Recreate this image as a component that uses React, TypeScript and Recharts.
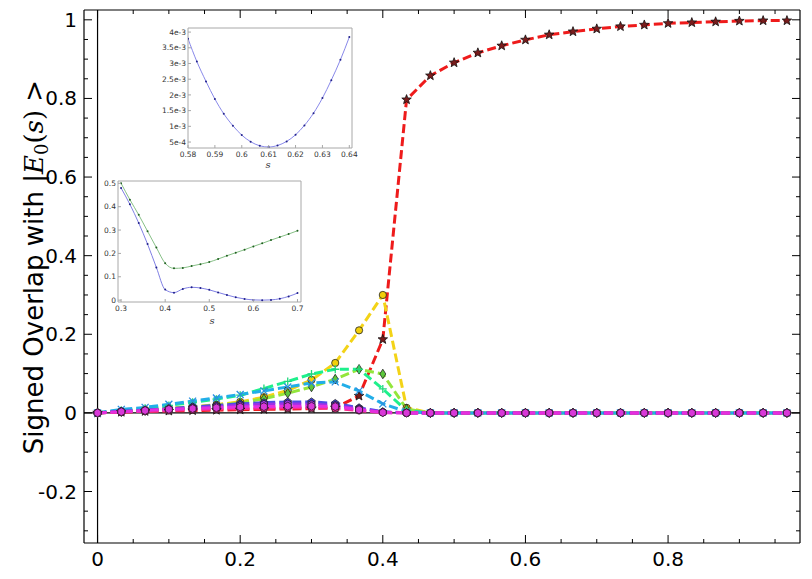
import { Line, LineChart, ReferenceLine, XAxis, YAxis } from 'recharts'

// adiabatic parameter s (main plot)
const sGrid = [
  0, 0.0333, 0.0667, 0.1, 0.1333, 0.1667, 0.2, 0.2333, 0.2667, 0.3,
  0.3333, 0.3667, 0.4, 0.4333, 0.4667, 0.5, 0.5333, 0.5667, 0.6, 0.6333,
  0.6667, 0.7, 0.7333, 0.7667, 0.8, 0.8333, 0.8667, 0.9, 0.9333, 0.9667,
]

const overlapE0 = [
  0, 0.002, 0.004, 0.005, 0.006, 0.007, 0.008, 0.009, 0.01, 0.011,
  0.013, 0.043, 0.187, 0.797, 0.858, 0.891, 0.916, 0.934, 0.949, 0.962,
  0.97, 0.977, 0.983, 0.987, 0.991, 0.993, 0.995, 0.997, 0.998, 0.998,
]
const overlapE1 = [
  0, 0.004, 0.008, 0.012, 0.016, 0.021, 0.028, 0.04, 0.057, 0.084,
  0.127, 0.21, 0.3, 0.013, 0, 0, 0, 0, 0, 0,
  0, 0, 0, 0, 0, 0, 0, 0, 0, 0,
]
const overlapE2 = [
  0, 0.003, 0.006, 0.01, 0.014, 0.019, 0.025, 0.036, 0.05, 0.066,
  0.086, 0.111, 0.099, 0.01, 0, 0, 0, 0, 0, 0,
  0, 0, 0, 0, 0, 0, 0, 0, 0, 0,
]
const overlapE3 = [
  0, 0.006, 0.012, 0.019, 0.027, 0.035, 0.045, 0.062, 0.08, 0.099,
  0.111, 0.111, 0.061, 0.006, 0, 0, 0, 0, 0, 0,
  0, 0, 0, 0, 0, 0, 0, 0, 0, 0,
]
const overlapE4 = [
  0, 0.009, 0.014, 0.022, 0.03, 0.038, 0.047, 0.056, 0.066, 0.076,
  0.079, 0.056, 0.023, 0.003, 0, 0, 0, 0, 0, 0,
  0, 0, 0, 0, 0, 0, 0, 0, 0, 0,
]
const overlapE5 = [
  0, 0.004, 0.007, 0.011, 0.015, 0.019, 0.023, 0.026, 0.028, 0.028,
  0.024, 0.013, 0.003, 0, 0, 0, 0, 0, 0, 0,
  0, 0, 0, 0, 0, 0, 0, 0, 0, 0,
]
const overlapE6 = [
  0, 0.003, 0.006, 0.009, 0.012, 0.016, 0.019, 0.022, 0.023, 0.022,
  0.019, 0.01, 0.002, 0, 0, 0, 0, 0, 0, 0,
  0, 0, 0, 0, 0, 0, 0, 0, 0, 0,
]
const overlapE7 = [
  0, 0.002, 0.004, 0.006, 0.008, 0.01, 0.011, 0.012, 0.013, 0.013,
  0.011, 0.006, 0.001, 0, 0, 0, 0, 0, 0, 0,
  0, 0, 0, 0, 0, 0, 0, 0, 0, 0,
]
const overlapE8 = [
  0, 0.003, 0.006, 0.009, 0.011, 0.013, 0.015, 0.016, 0.017, 0.017,
  0.016, 0.008, 0.001, 0, 0, 0, 0, 0, 0, 0,
  0, 0, 0, 0, 0, 0, 0, 0, 0, 0,
]

const xMainTicks = [
  0, 0.05, 0.1, 0.15, 0.2, 0.25, 0.3, 0.35, 0.4, 0.45,
  0.5, 0.55, 0.6, 0.65, 0.7, 0.75, 0.8, 0.85, 0.9, 0.95,
]
const yMainTicks = [
  -0.3, -0.25, -0.2, -0.15, -0.1, -0.05, 0, 0.05, 0.1, 0.15, 0.2, 0.25,
  0.3, 0.35, 0.4, 0.45, 0.5, 0.55, 0.6, 0.65, 0.7, 0.75, 0.8, 0.85, 0.9,
  0.95, 1,
]

// inset 1: zoom on the minimum gap
const gapS = [
  0.58, 0.5833, 0.5867, 0.59, 0.5933, 0.5967, 0.6, 0.6033, 0.6067, 0.61,
  0.6133, 0.6167, 0.62, 0.6233, 0.6267, 0.63, 0.6333, 0.6367, 0.64,
]
const gapValues = [
  0.00379, 0.00306, 0.00243, 0.00187, 0.0014, 0.00102, 0.00072, 0.00051,
  0.00038, 0.00034, 0.00039, 0.00052, 0.00073, 0.00103, 0.00142, 0.0019,
  0.00247, 0.00312, 0.00384,
]
const gapXTicks = [0.58, 0.59, 0.6, 0.61, 0.62, 0.63, 0.64]
const gapXLabels = ['0.58', '0.59', '0.6', '0.61', '0.62', '0.63', '0.64']
const gapYTicks = [0.0005, 0.001, 0.0015, 0.002, 0.0025, 0.003, 0.0035, 0.004]
const gapYLabels = ['5e-4', '1e-3', '1.5e-3', '2e-3', '2.5e-3', '3e-3', '3.5e-3', '4e-3']

// inset 2: two lowest gaps
const gapsS = [
  0.3, 0.32, 0.34, 0.36, 0.38, 0.4, 0.42, 0.44, 0.46, 0.48, 0.5,
  0.52, 0.54, 0.56, 0.58, 0.6, 0.62, 0.64, 0.66, 0.68, 0.7,
]
const gapFirst = [
  0.48, 0.41, 0.33, 0.24, 0.14, 0.045, 0.032, 0.048, 0.055, 0.052, 0.044,
  0.033, 0.022, 0.012, 0.005, 0.001, 0, 0.001, 0.006, 0.016, 0.03,
]
const gapSecond = [
  0.5, 0.43, 0.365, 0.295, 0.225, 0.158, 0.136, 0.138, 0.146, 0.154, 0.163,
  0.176, 0.19, 0.203, 0.216, 0.23, 0.243, 0.257, 0.27, 0.283, 0.297,
]
const gapsXTicks = [0.3, 0.4, 0.5, 0.6, 0.7]
const gapsXLabels = ['0.3', '0.4', '0.5', '0.6', '0.7']
const gapsYTicks = [0, 0.1, 0.2, 0.3, 0.4, 0.5]
const gapsYLabels = ['0', '0.1', '0.2', '0.3', '0.4', '0.5']

type MarkerKind = 'star' | 'circle' | 'diamond' | 'plus' | 'cross' | 'pentagon' | 'hexagon'

const seriesDefs: {
  key: string
  values: number[]
  color: string
  marker: MarkerKind
  fill: string
  edge: string
}[] = [
  { key: 'e0', values: overlapE0, color: '#ee1b1b', marker: 'star', fill: '#7a1c1c', edge: '#111' },
  { key: 'e1', values: overlapE1, color: '#f3d317', marker: 'circle', fill: '#f2cf0a', edge: '#222' },
  { key: 'e2', values: overlapE2, color: '#93e63c', marker: 'diamond', fill: '#5cc83c', edge: '#222' },
  { key: 'e3', values: overlapE3, color: '#1ef08c', marker: 'plus', fill: '#1fd67c', edge: '#1fd67c' },
  { key: 'e4', values: overlapE4, color: '#22aee8', marker: 'cross', fill: '#2a8fe0', edge: '#2a8fe0' },
  { key: 'e5', values: overlapE5, color: '#4c4ce6', marker: 'pentagon', fill: '#3a3ae0', edge: '#222' },
  { key: 'e6', values: overlapE6, color: '#9c30e8', marker: 'hexagon', fill: '#9c30e8', edge: '#222' },
  { key: 'e7', values: overlapE7, color: '#ff2a8c', marker: 'circle', fill: '#ff2a8c', edge: '#222' },
  { key: 'e8', values: overlapE8, color: '#e42ee0', marker: 'hexagon', fill: '#d838d8', edge: '#3a1a3a' },
]

const mainRows = sGrid.map((s, i) => {
  const row: Record<string, number> = { s }
  seriesDefs.forEach((d) => {
    row[d.key] = d.values[i]
  })
  return row
})

const gapRows = gapS.map((s, i) => ({ s, a: gapValues[i] }))
const gapsRows = gapsS.map((s, i) => ({ s, a: gapFirst[i], b: gapSecond[i] }))

const sans = 'DejaVu Sans'

function ring(cx: number, cy: number, r: number, n: number, inner?: number) {
  const count = inner ? n * 2 : n
  const pts: string[] = []
  for (let i = 0; i < count; i++) {
    const rr = inner && i % 2 === 1 ? inner : r
    const a = (i * Math.PI * 2) / count
    pts.push(`${(cx + rr * Math.sin(a)).toFixed(2)},${(cy - rr * Math.cos(a)).toFixed(2)}`)
  }
  return pts.join(' ')
}

function Marker({ kind, cx, cy, fill, edge }: { kind: MarkerKind; cx: number; cy: number; fill: string; edge: string }) {
  if (kind === 'star')
    return <polygon points={ring(cx, cy, 5, 5, 2.1)} fill={fill} stroke={edge} strokeWidth={0.8} />
  if (kind === 'circle') return <circle cx={cx} cy={cy} r={3.6} fill={fill} stroke={edge} strokeWidth={0.8} />
  if (kind === 'diamond')
    return (
      <polygon
        points={`${cx},${cy - 4.8} ${cx + 3},${cy} ${cx},${cy + 4.8} ${cx - 3},${cy}`}
        fill={fill}
        stroke={edge}
        strokeWidth={0.8}
      />
    )
  if (kind === 'plus')
    return <path d={`M${cx - 4},${cy}H${cx + 4}M${cx},${cy - 4}V${cy + 4}`} stroke={fill} strokeWidth={1.3} />
  if (kind === 'cross')
    return (
      <path
        d={`M${cx - 3.5},${cy - 3.5}L${cx + 3.5},${cy + 3.5}M${cx - 3.5},${cy + 3.5}L${cx + 3.5},${cy - 3.5}`}
        stroke={fill}
        strokeWidth={1.3}
      />
    )
  if (kind === 'pentagon')
    return <polygon points={ring(cx, cy, 4, 5)} fill={fill} stroke={edge} strokeWidth={0.8} />
  return <polygon points={ring(cx, cy, 4, 6)} fill={fill} stroke={edge} strokeWidth={0.9} />
}

const isMajor = (v: number) => Math.abs(v / 0.2 - Math.round(v / 0.2)) < 1e-6
const fmtMain = (v: number) => (Math.abs(v) < 1e-9 ? '0' : Math.abs(v - 1) < 1e-9 ? '1' : v.toFixed(1))

function bottomTick(p: any) {
  const v = p.payload.value
  const major = isMajor(v)
  return (
    <g>
      <line x1={p.x} x2={p.x} y1={p.y} y2={p.y - (major ? 8 : 4)} stroke='#000' />
      {major && (
        <text x={p.x} y={p.y + 23} textAnchor='middle' fontSize={20} fontFamily={sans} fill='#000'>
          {fmtMain(v)}
        </text>
      )}
    </g>
  )
}
function topTick(p: any) {
  const major = isMajor(p.payload.value)
  return <line x1={p.x} x2={p.x} y1={p.y} y2={p.y + (major ? 8 : 4)} stroke='#000' />
}
function leftTick(p: any) {
  const v = p.payload.value
  const major = isMajor(v)
  return (
    <g>
      <line x1={p.x} x2={p.x + (major ? 8 : 4)} y1={p.y} y2={p.y} stroke='#000' />
      {major && (
        <text x={p.x - 7} y={p.y + 7} textAnchor='end' fontSize={20} fontFamily={sans} fill='#000'>
          {fmtMain(v)}
        </text>
      )}
    </g>
  )
}
function rightTick(p: any) {
  const major = isMajor(p.payload.value)
  return <line x1={p.x} x2={p.x - (major ? 8 : 4)} y1={p.y} y2={p.y} stroke='#000' />
}

type Curve = { key: string; line: string; dot: string }

type InsetProps = {
  left: number
  top: number
  width: number
  height: number
  yWidth: number
  xHeight: number
  rows: Record<string, number>[]
  xDomain: [number, number]
  yDomain: [number, number]
  xTicks: number[]
  xLabels: string[]
  yTicks: number[]
  yLabels: string[]
  labelGap: number
  curves: Curve[]
}

function InsetPlot(props: InsetProps) {
  const { left, top, width, height, yWidth, xHeight, rows, xDomain, yDomain, xTicks, xLabels, yTicks, yLabels, labelGap, curves } = props
  const frame = '#a8a8a8'
  const xt = (p: any) => (
    <g>
      <line x1={p.x} x2={p.x} y1={p.y} y2={p.y - 3} stroke={frame} />
      <text x={p.x} y={p.y + labelGap} textAnchor='middle' fontSize={7.5} fontFamily={sans} fill='#333'>
        {xLabels[xTicks.indexOf(p.payload.value)]}
      </text>
    </g>
  )
  const yt = (p: any) => (
    <g>
      <line x1={p.x} x2={p.x + 3} y1={p.y} y2={p.y} stroke={frame} />
      <text x={p.x - 2} y={p.y + 2.6} textAnchor='end' fontSize={7.5} fontFamily={sans} fill='#333'>
        {yLabels[yTicks.indexOf(p.payload.value)]}
      </text>
    </g>
  )
  return (
    <div style={{ position: 'absolute', left, top, width, height, background: '#fff' }}>
      <LineChart width={width} height={height} data={rows} margin={{ top: 7, right: 5, bottom: 0, left: 0 }}>
        <XAxis
          dataKey='s'
          type='number'
          domain={xDomain}
          allowDataOverflow
          ticks={xTicks}
          interval={0}
          height={xHeight}
          tickSize={0}
          tickMargin={0}
          tickLine={false}
          axisLine={{ stroke: frame }}
          tick={xt}
        />
        <XAxis
          xAxisId='t'
          dataKey='s'
          orientation='top'
          type='number'
          domain={xDomain}
          allowDataOverflow
          height={1}
          tick={false}
          tickLine={false}
          axisLine={{ stroke: frame }}
        />
        <YAxis
          type='number'
          domain={yDomain}
          allowDataOverflow
          ticks={yTicks}
          interval={0}
          width={yWidth}
          tickSize={0}
          tickMargin={0}
          tickLine={false}
          axisLine={{ stroke: frame }}
          tick={yt}
        />
        <YAxis
          yAxisId='r'
          orientation='right'
          type='number'
          domain={yDomain}
          allowDataOverflow
          width={1}
          tick={false}
          tickLine={false}
          axisLine={{ stroke: frame }}
        />
        <Line xAxisId='t' yAxisId='r' dataKey='a' stroke='none' dot={false} activeDot={false} isAnimationActive={false} />
        {curves.map((c) => (
          <Line
            key={c.key}
            dataKey={c.key}
            type='monotone'
            stroke={c.line}
            strokeWidth={0.9}
            isAnimationActive={false}
            activeDot={false}
            dot={(p: any) => <circle key={`${c.key}-${p.index}`} cx={p.cx} cy={p.cy} r={1} fill={c.dot} />}
          />
        ))}
      </LineChart>
    </div>
  )
}

export default function App() {
  const xDomain: [number, number] = [-0.019, 0.985]
  const yDomain: [number, number] = [-0.331, 1.025]
  return (
    <div style={{ position: 'absolute', left: 0, top: 0, width: 812, height: 579, background: '#fff' }}>
      <LineChart width={812} height={579} data={mainRows} margin={{ top: 9, right: 11, bottom: 0, left: 24 }}>
        <XAxis
          dataKey='s'
          type='number'
          domain={xDomain}
          allowDataOverflow
          ticks={xMainTicks}
          interval={0}
          height={36}
          tickSize={0}
          tickMargin={0}
          tickLine={false}
          axisLine={{ stroke: '#000', strokeWidth: 1.2 }}
          tick={bottomTick}
        />
        <XAxis
          xAxisId='top'
          dataKey='s'
          orientation='top'
          type='number'
          domain={xDomain}
          allowDataOverflow
          ticks={xMainTicks}
          interval={0}
          height={1}
          tickSize={0}
          tickMargin={0}
          tickLine={false}
          axisLine={{ stroke: '#000', strokeWidth: 1.2 }}
          tick={topTick}
        />
        <YAxis
          type='number'
          domain={yDomain}
          allowDataOverflow
          ticks={yMainTicks}
          interval={0}
          width={60}
          tickSize={0}
          tickMargin={0}
          tickLine={false}
          axisLine={{ stroke: '#000', strokeWidth: 1.2 }}
          tick={leftTick}
        />
        <YAxis
          yAxisId='right'
          orientation='right'
          type='number'
          domain={yDomain}
          allowDataOverflow
          ticks={yMainTicks}
          interval={0}
          width={1}
          tickSize={0}
          tickMargin={0}
          tickLine={false}
          axisLine={{ stroke: '#000', strokeWidth: 1.2 }}
          tick={rightTick}
        />
        <Line
          xAxisId='top'
          yAxisId='right'
          dataKey='e0'
          stroke='none'
          dot={false}
          activeDot={false}
          isAnimationActive={false}
        />
        <ReferenceLine y={0} stroke='#000' strokeWidth={1.2} />
        <ReferenceLine x={0} stroke='#000' strokeWidth={1.2} />
        {seriesDefs.map((d) => (
          <Line
            key={d.key}
            dataKey={d.key}
            type='linear'
            stroke={d.color}
            strokeWidth={3}
            strokeDasharray='9 4'
            isAnimationActive={false}
            activeDot={false}
            dot={(p: any) => (
              <Marker key={`${d.key}-${p.index}`} kind={d.marker} cx={p.cx} cy={p.cy} fill={d.fill} edge={d.edge} />
            )}
          />
        ))}
      </LineChart>

      <InsetPlot
        left={150}
        top={20}
        width={208}
        height={150}
        yWidth={38}
        xHeight={22}
        rows={gapRows}
        xDomain={[0.58, 0.641]}
        yDomain={[0.00031, 0.00413]}
        xTicks={gapXTicks}
        xLabels={gapXLabels}
        yTicks={gapYTicks}
        yLabels={gapYLabels}
        labelGap={9}
        curves={[{ key: 'a', line: '#7b7be6', dot: '#22228a' }]}
      />
      <InsetPlot
        left={101}
        top={173}
        width={206}
        height={155}
        yWidth={17}
        xHeight={26}
        rows={gapsRows}
        xDomain={[0.293, 0.708]}
        yDomain={[-0.008, 0.51]}
        xTicks={gapsXTicks}
        xLabels={gapsXLabels}
        yTicks={gapsYTicks}
        yLabels={gapsYLabels}
        labelGap={9}
        curves={[
          { key: 'a', line: '#7070e0', dot: '#20208a' },
          { key: 'b', line: '#78b878', dot: '#206020' },
        ]}
      />

      <svg width={812} height={579} style={{ position: 'absolute', left: 0, top: 0, pointerEvents: 'none' }}>
        <text x={268} y={168} textAnchor='middle' fontSize={10} fontFamily='DejaVu Serif' fontStyle='italic' fill='#333'>
          s
        </text>
        <text x={212} y={324} textAnchor='middle' fontSize={10} fontFamily='DejaVu Serif' fontStyle='italic' fill='#333'>
          s
        </text>
        <text transform='translate(43,267) rotate(-90)' textAnchor='middle' fontSize={26} fontFamily={sans} fill='#000'>
          Signed Overlap with{' '}
          <tspan fontFamily='DejaVu Serif'>|</tspan>
          <tspan fontFamily='DejaVu Serif' fontStyle='italic'>E</tspan>
          <tspan fontFamily='DejaVu Serif' fontSize={18} dy={5}>0</tspan>
          <tspan fontFamily='DejaVu Serif' dy={-5}>(</tspan>
          <tspan fontFamily='DejaVu Serif' fontStyle='italic'>s</tspan>
          <tspan fontFamily='DejaVu Serif'>)</tspan>
          <tspan> &gt;</tspan>
        </text>
      </svg>
    </div>
  )
}
